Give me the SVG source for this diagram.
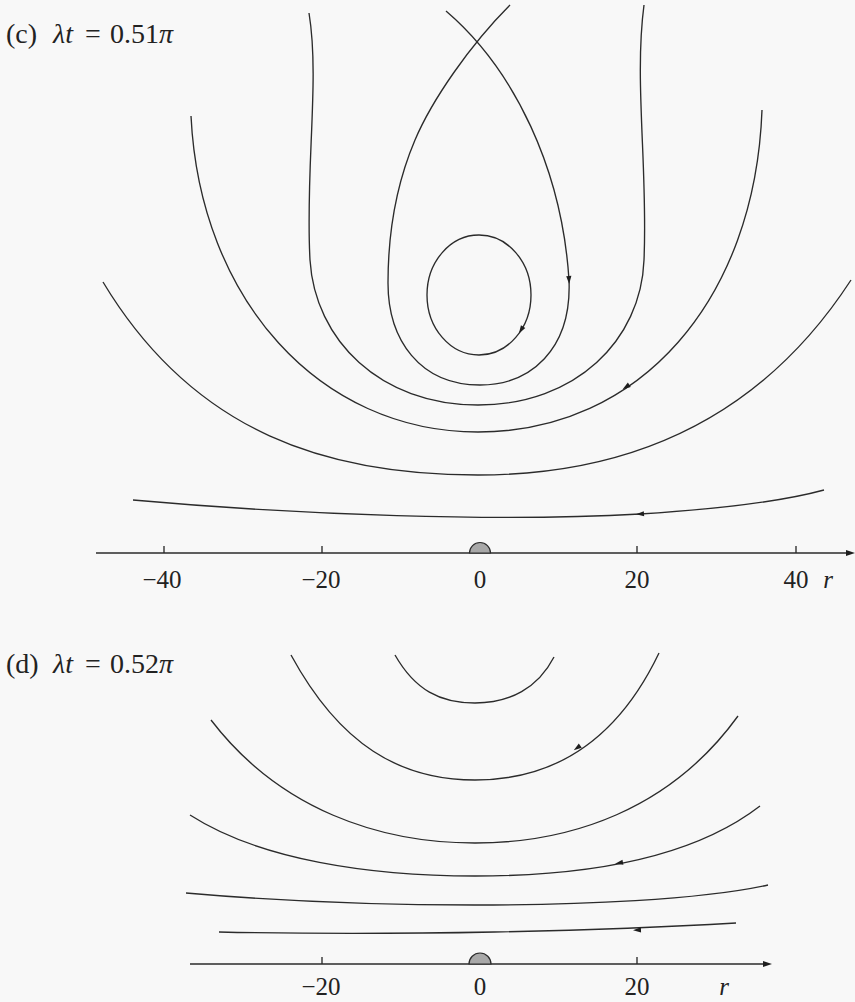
<svg xmlns="http://www.w3.org/2000/svg" xmlns:xlink="http://www.w3.org/1999/xlink" width="855" height="1002" viewBox="0 0 855 1002">
<defs>
<style>
.c{fill:none;stroke:#2b2b2b;stroke-width:1.35}
.ax{fill:none;stroke:#2b2b2b;stroke-width:1.35}
.ah{fill:#1e1e1e}
.t{font-family:"Liberation Serif",serif;font-size:25px;fill:#222}
.tt{font-family:"Liberation Serif",serif;font-size:28px;fill:#222}
.i{font-style:italic}
.sc{fill:#a8a8a8;stroke:#2b2b2b;stroke-width:1.2}
</style>
<path id="ah" d="M4,0 L-4,-2.6 L-4,2.6 Z"/>
<path id="axh" d="M0,0 L-9,-3 L-9,3 Z"/>
</defs>
<rect width="855" height="1002" fill="#f8f8f8"/>

<g id="panel-c">
<text class="tt" x="6" y="43">(c)<tspan x="53" class="i">λt</tspan><tspan x="85">=</tspan><tspan x="110">0.51</tspan><tspan class="i">π</tspan></text>
<g id="curves-c">
<ellipse class="c" cx="479" cy="295" rx="52" ry="60"/>
<path class="c" d="M446,11 C515,70 562,170 569,280 C572,350 530,385 480,385 C420,385 388,340 388,283 C388,225 398,180 415,140 C432,100 470,45 510,5"/>
<path class="c" d="M309,13 C320,80 305,170 310,260 C315,340 380,405 478,405 C576,405 641,340 644,260 C648,170 634,80 644,5"/>
<path class="c" d="M191,116 C200,300 320,432 478,432 C640,432 755,300 762,110"/>
<path class="c" d="M103,282 C195,435 330,475 478,475 C630,475 760,420 851,280"/>
<path class="c" d="M133,500 C300,515 500,522 640,514 C720,509 780,502 824,490"/>
</g>
<g id="arrows-c" class="ah">
<use xlink:href="#ah" transform="translate(569,280) rotate(87)"/>
<use xlink:href="#ah" transform="translate(521,330) rotate(122)"/>
<use xlink:href="#ah" transform="translate(626,387) rotate(146)"/>
<use xlink:href="#ah" transform="translate(640,514) rotate(176)"/>
</g>
<g id="axis-c">
<line class="ax" x1="96" y1="553" x2="848" y2="553"/>
<use xlink:href="#axh" class="ah" transform="translate(855,553)"/>
<path class="ax" d="M164,546 V553 M322,546 V553 M637,546 V553 M796,546 V553"/>
<path class="sc" d="M469.5,553 A10.5,10.5 0 0 1 490.5,553 Z"/>
<g class="t" text-anchor="middle">
<text x="162" y="588">−40</text>
<text x="321" y="588">−20</text>
<text x="480" y="588">0</text>
<text x="637" y="588">20</text>
<text x="796" y="588">40</text>
<text x="828" y="588" class="i">r</text>
</g>
</g>
</g>

<g id="panel-d">
<text class="tt" x="6" y="673">(d)<tspan x="53" class="i">λt</tspan><tspan x="85">=</tspan><tspan x="110">0.52</tspan><tspan class="i">π</tspan></text>
<g id="curves-d">
<path class="c" d="M395,655 C415,690 440,703 475,703 C510,703 538,688 554,657"/>
<path class="c" d="M291,655 C340,745 400,780 475,780 C550,780 615,745 659,653"/>
<path class="c" d="M211,720 C280,810 380,843 475,843 C570,843 670,810 738,716"/>
<path class="c" d="M190,815 C260,860 370,876 475,876 C580,876 690,860 760,806"/>
<path class="c" d="M186,893 C300,903 400,905 475,905 C580,905 700,900 768,885"/>
<path class="c" d="M219,932 C400,936 600,931 736,923"/>
</g>
<g id="arrows-d" class="ah">
<use xlink:href="#ah" transform="translate(577,748) rotate(145)"/>
<use xlink:href="#ah" transform="translate(619,863) rotate(169)"/>
<use xlink:href="#ah" transform="translate(637,930) rotate(178)"/>
</g>
<g id="axis-d">
<line class="ax" x1="190" y1="964" x2="765" y2="964"/>
<use xlink:href="#axh" class="ah" transform="translate(772,964)"/>
<path class="ax" d="M322,957 V964 M637,957 V964"/>
<path class="sc" d="M469,964 A11,11 0 0 1 491,964 Z"/>
<g class="t" text-anchor="middle">
<text x="321" y="995">−20</text>
<text x="480" y="995">0</text>
<text x="637" y="995">20</text>
<text x="724" y="995" class="i">r</text>
</g>
</g>
</g>
</svg>
